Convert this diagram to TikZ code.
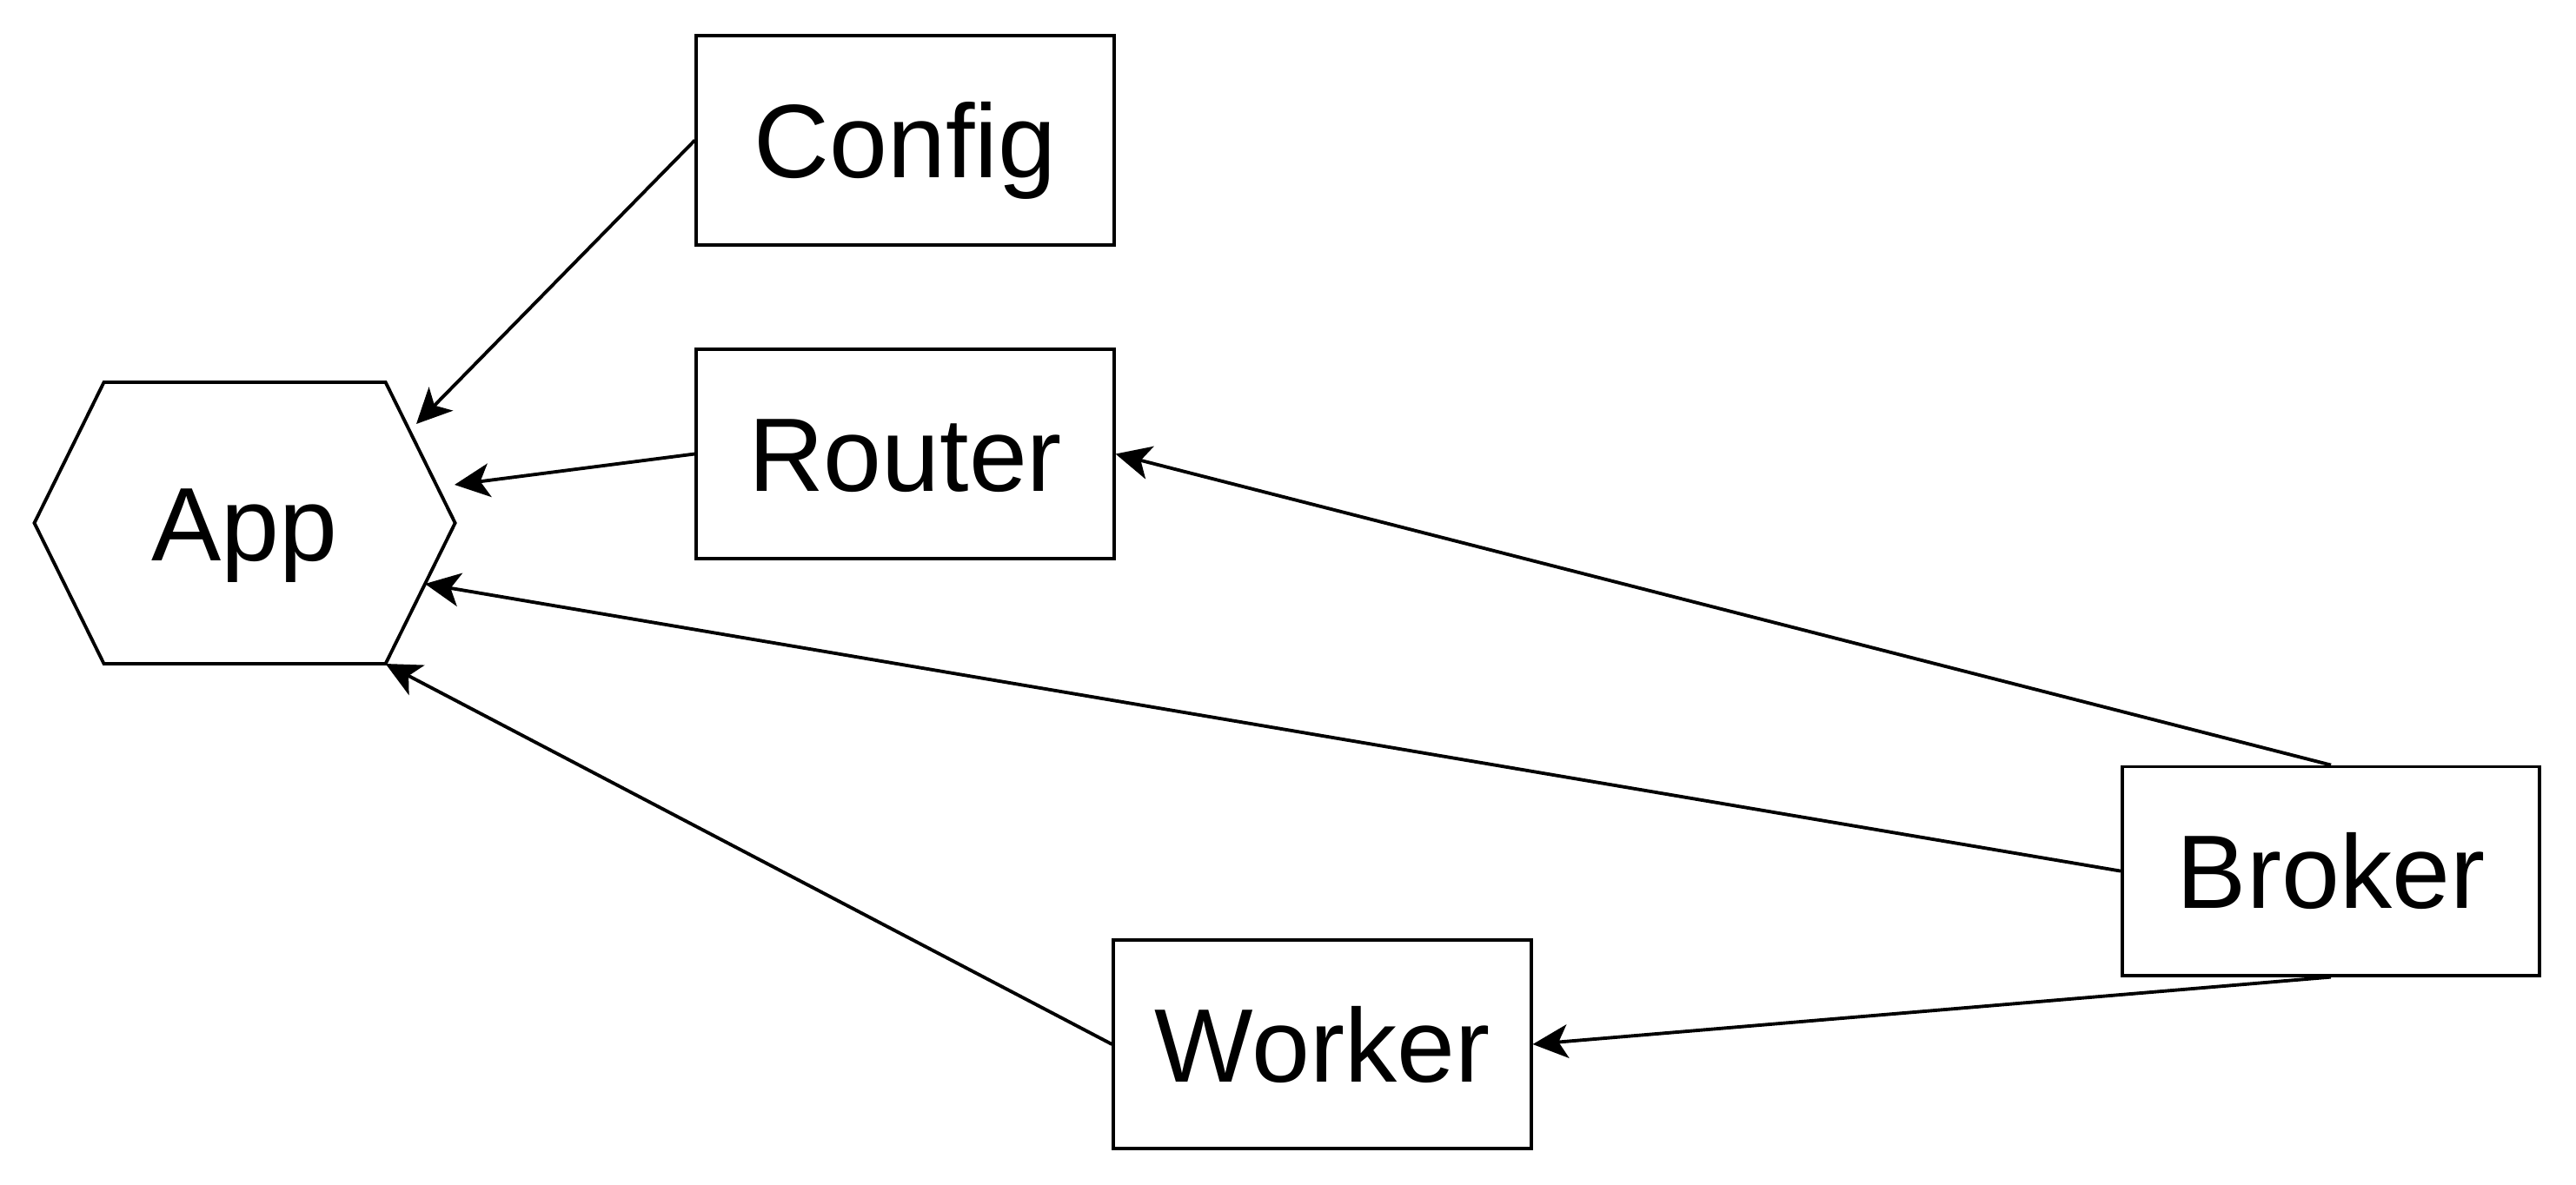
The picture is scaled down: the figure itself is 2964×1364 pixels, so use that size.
\documentclass[tikz,border=0pt]{standalone}
\usepackage{fontspec}
\setmainfont{Liberation Sans}
\usetikzlibrary{arrows.meta}

\tikzset{
  box/.style={draw, line width=1.1pt, minimum width=4.8cm, minimum height=2.4cm, inner sep=0pt,
    font=\fontsize{34.2}{41}\selectfont, text height=24.5pt, text depth=0pt},
  hexbox/.style={box, draw=none, minimum height=3.2cm},
  link/.style={line width=1.1pt, -{Stealth[length=11.5pt, width=11pt, inset=3pt]}}
}

\begin{document}
\begin{tikzpicture}[x=0.01cm, y=-0.01cm]
% Page size (pixels of the reference)
\useasboundingbox (0, 0) rectangle (2964, 1364);

% Draw the nodes
\node[hexbox] (app) at (281.6, 602) {App};
\draw[line width=1.1pt] (app.west) -- ([xshift=0.8cm]app.north west) -- ([xshift=-0.8cm]app.north east)
  -- (app.east) -- ([xshift=-0.8cm]app.south east) -- ([xshift=0.8cm]app.south west) -- cycle;
\node[box] (config) at (1041.5, 161.5) {Config};
\node[box] (router) at (1041.5, 522.5) {Router};
\node[box] (worker) at (1521.5, 1202) {Worker};
\node[box] (broker) at (2682, 1002.6) {Broker};

% Where the arrows meet the hexagon
\coordinate (appA) at (479, 488);
\coordinate (appB) at (523, 558);
\coordinate (appC) at (489, 672);
\coordinate (appD) at ([xshift=-0.8cm]app.south east);

% Draw the connectors
\draw[link] (config.west) -- (appA);
\draw[link] (router.west) -- (appB);
\draw[link] (broker.west) -- (appC);
\draw[link] (worker.west) -- (appD);
\draw[link] (broker.north) -- (router.east);
\draw[link] (broker.south) -- (worker.east);
\end{tikzpicture}
\end{document}
